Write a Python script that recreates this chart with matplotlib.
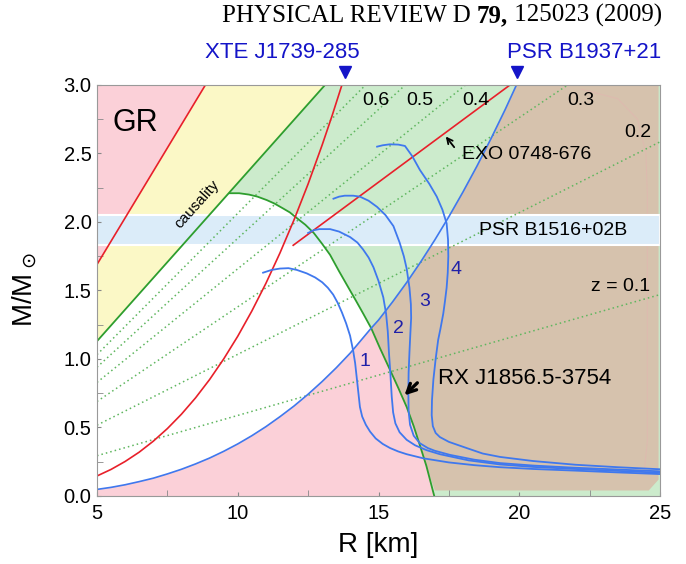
import matplotlib
matplotlib.use("Agg")
import matplotlib.pyplot as plt
import matplotlib.transforms as mtransforms

# ---- data (R in km, M in solar masses) ----
gr_R = [5.0, 8.85]
gr_M = [1.69, 3.0]

caus_R = [5.0, 13.1]
caus_M = [1.13, 3.0]

# green boundary of the white region (rotation limit)
rot_R = [9.72, 10.05, 10.4, 10.7, 11.03, 11.3, 11.6, 11.85, 12.09, 12.4, 12.7, 13.0, 13.28,
         13.6, 13.99, 14.2, 14.46, 14.74, 15.05, 15.41, 15.7, 16.0, 16.25, 16.47, 16.7, 16.98]
rot_M = [2.21, 2.21, 2.20, 2.185, 2.16, 2.135, 2.10, 2.07, 2.03, 1.98, 1.92, 1.84, 1.76,
         1.64, 1.50, 1.425, 1.33, 1.225, 1.08, 0.92, 0.79, 0.65, 0.51, 0.37, 0.22, 0.0]
rot_join = 17  # where it meets the PSR B1937+21 line

# PSR B1937+21 limit (blue line)
psr_R = [5, 5.5, 6, 6.5, 7, 7.5, 8, 8.5, 9, 9.5, 10, 10.5, 11, 11.5, 12, 12.5, 13, 13.5, 14,
         14.74, 15, 15.5, 16, 16.5, 17, 17.5, 18, 18.5, 19, 19.5, 19.9]
psr_M = [0.048, 0.063, 0.082, 0.105, 0.13, 0.161, 0.195, 0.234, 0.277, 0.326, 0.38, 0.44,
         0.506, 0.579, 0.657, 0.743, 0.836, 0.936, 1.044, 1.225, 1.284, 1.417, 1.558, 1.709,
         1.869, 2.039, 2.219, 2.409, 2.61, 2.821, 3.0]
psr_join = 19

# XTE J1739-285 limit (red curve)
xte_R = [5, 5.5, 6, 6.5, 7, 7.5, 8, 8.5, 9, 9.5, 10, 10.5, 11, 11.5, 12, 12.5, 13, 13.35, 13.7]
xte_M = [0.146, 0.194, 0.252, 0.32, 0.40, 0.492, 0.597, 0.716, 0.85, 1.0, 1.166, 1.35,
         1.552, 1.774, 2.016, 2.278, 2.563, 2.775, 3.0]

# EXO 0748-676 line
exo_R = [11.97, 19.67]
exo_M = [1.83, 3.0]

# constant redshift lines
z_labels = ["z = 0.1", "0.2", "0.3", "0.4", "0.5", "0.6"]
z_left_M = [0.294, 0.517, 0.690, 0.829, 0.940, 1.032]
z_end_R = [25, 25, 21.72, 18.09, 15.95, 14.54]
z_end_M = [1.47, 2.585, 3.0, 3.0, 3.0, 3.0]
z_text_R = [23.6, 24.2, 22.2, 18.45, 16.45, 14.9]
z_text_M = [1.53, 2.65, 2.89, 2.89, 2.89, 2.89]

# PSR B1516+02B mass band
band_M = [1.83, 2.05]

# EOS mass-radius curves 1-4
eos1_R = [10.9, 11.2, 11.5, 11.8, 12.1, 12.45, 12.75, 13.0, 13.2, 13.39, 13.55, 13.7, 13.85,
          13.99, 14.1, 14.17, 14.25, 14.34, 14.42, 14.55, 14.7, 14.9, 15.15, 15.41, 15.7,
          16.0, 16.59, 17.5, 18.4, 19.32, 20.5, 22, 23.5, 25]
eos1_M = [1.63, 1.65, 1.66, 1.663, 1.65, 1.625, 1.595, 1.56, 1.52, 1.47, 1.41, 1.34, 1.26,
          1.17, 1.06, 0.97, 0.82, 0.65, 0.58, 0.52, 0.47, 0.42, 0.38, 0.35, 0.325,
          0.305, 0.275, 0.245, 0.225, 0.21, 0.197, 0.185, 0.172, 0.16]
eos2_R = [12.5, 12.7, 12.9, 13.28, 13.6, 13.99, 14.25, 14.45, 14.65, 14.82, 15.0, 15.17,
          15.27, 15.33, 15.37, 15.42, 15.47, 15.52, 15.6, 15.75, 16.0, 16.3, 16.7, 17.18,
          18.2, 19.32, 20.5, 22, 23.5, 25]
eos2_M = [1.92, 1.94, 1.948, 1.948, 1.93, 1.89, 1.85, 1.80, 1.74, 1.67, 1.57, 1.45,
          1.33, 1.2, 1.05, 0.90, 0.725, 0.61, 0.53, 0.465, 0.41, 0.37, 0.335, 0.305,
          0.26, 0.23, 0.212, 0.197, 0.183, 0.17]
eos3_R = [13.4, 13.6, 13.8, 14.1, 14.34, 14.65, 14.95, 15.25, 15.53, 15.75, 15.9, 16.0,
          16.1, 16.15, 16.16, 16.13, 16.1, 16.07, 16.06, 16.07, 16.12, 16.25, 16.47, 16.75,
          17.0, 17.54, 18.4, 19.32, 20.5, 22, 23.5, 25]
eos3_M = [2.17, 2.185, 2.192, 2.192, 2.185, 2.155, 2.11, 2.05, 1.97, 1.85, 1.75, 1.66,
          1.52, 1.40, 1.30, 1.18, 1.05, 0.9, 0.75, 0.62, 0.52, 0.44, 0.385, 0.35,
          0.33, 0.30, 0.265, 0.24, 0.222, 0.206, 0.193, 0.18]
eos4_R = [14.95, 15.15, 15.4, 15.7, 15.94, 16.2, 16.47, 16.8, 17.07, 17.27, 17.42, 17.47,
          17.48, 17.46, 17.42, 17.36, 17.30, 17.2, 17.12, 17.03, 16.95, 16.9, 16.89, 16.93,
          17.03, 17.18, 17.5, 18.13, 18.7, 19.32, 20.5, 22, 23.5, 25]
eos4_M = [2.55, 2.56, 2.567, 2.565, 2.555, 2.48, 2.38, 2.28, 2.185, 2.09, 1.99, 1.87,
          1.75, 1.63, 1.52, 1.42, 1.33, 1.22, 1.14, 1.0, 0.85, 0.7, 0.59, 0.51,
          0.46, 0.43, 0.395, 0.35, 0.31, 0.285, 0.255, 0.228, 0.21, 0.195]
eos_num = ["1", "2", "3", "4"]
eos_num_R = [14.52, 15.70, 16.65, 17.75]
eos_num_M = [0.98, 1.22, 1.42, 1.65]

# colours
c_pink = "#fbd0d8"
c_yellow = "#fbf8c6"
c_green = "#ccebcc"
c_brown = "#d6c2ad"
c_band = "#dbecf9"
c_red = "#e8202a"
c_grn_line = "#2e9e2e"
c_blue = "#3f78ee"
c_dark = "#2020a8"
c_title = "#1414c8"

plt.rcParams["font.family"] = ["Liberation Sans", "DejaVu Sans"]

fig = plt.figure(figsize=(6.86, 5.64), dpi=100)
ax = fig.add_axes([0.1414, 0.1206, 0.8207, 0.7287])
ax.set_xlim(5, 25)
ax.set_ylim(0, 3)
ax.set_facecolor(c_pink)

# regions
ax.fill([caus_R[0], caus_R[1], 25, 25, 5], [caus_M[0], caus_M[1], 3, 0, 0],
        color=c_green, lw=0, zorder=0.5)
ax.fill([caus_R[0], caus_R[1], gr_R[1], gr_R[0]], [caus_M[0], caus_M[1], gr_M[1], gr_M[0]],
        color=c_yellow, lw=0, zorder=0.5)
wR = [caus_R[0]] + rot_R[:rot_join + 1] + psr_R[:psr_join][::-1]
wM = [caus_M[0]] + rot_M[:rot_join + 1] + psr_M[:psr_join][::-1]
ax.fill(wR, wM, color="white", lw=0, zorder=0.6)
pR = [5] + psr_R[:psr_join + 1] + rot_R[rot_join + 1:]
pM = [0] + psr_M[:psr_join + 1] + rot_M[rot_join + 1:]
ax.fill(pR, pM, color=c_pink, lw=0, zorder=0.7)
bR = rot_R[rot_join:-1] + [17.0, 24.6, 24.95, 24.95] + psr_R[psr_join:][::-1]
bM = rot_M[rot_join:-1] + [0.04, 0.04, 0.12, 3.0] + psr_M[psr_join:][::-1]
ax.fill(bR, bM, color=c_brown, lw=0, zorder=0.7)
ax.plot([22.2, 23.5, 24.2, 24.5, 24.55, 24.55, 24.45], [2.97, 2.9, 2.75, 2.5, 2.2, 0.4, 0.2],
        color="#e3b4b0", lw=0.7, alpha=0.6, zorder=0.8)

ax.axhspan(band_M[0], band_M[1], facecolor=c_band, edgecolor="white", lw=1.5, zorder=1)

# redshift lines
for m0, re, me in zip(z_left_M, z_end_R, z_end_M):
    ax.plot([5, re], [m0, me], ls=(0, (1, 2)), color="#5fb65f", lw=1.1, zorder=2)
for zl, tr, tm in zip(z_labels, z_text_R, z_text_M):
    ax.text(tr, tm, zl, fontsize=14, ha="center", va="center", zorder=6)

# constraint lines
ax.plot(gr_R, gr_M, color=c_red, lw=1.2, zorder=3)
ax.plot(caus_R, caus_M, color=c_grn_line, lw=1.3, zorder=3)
ax.plot(rot_R, rot_M, color=c_grn_line, lw=1.3, zorder=3)
ax.plot(xte_R, xte_M, color=c_red, lw=1.2, zorder=3)
ax.plot(exo_R, exo_M, color=c_red, lw=1.2, zorder=3)
ax.plot(psr_R, psr_M, color=c_blue, lw=1.2, zorder=3)

for r, m in [(eos1_R, eos1_M), (eos2_R, eos2_M), (eos3_R, eos3_M), (eos4_R, eos4_M)]:
    ax.plot(r, m, color=c_blue, lw=1.3, zorder=4, solid_joinstyle="round")
for t, r, m in zip(eos_num, eos_num_R, eos_num_M):
    ax.text(r, m, t, color=c_dark, fontsize=14, ha="center", va="center", zorder=6)

# labels inside the plot
ax.text(5.55, 2.72, "GR", fontsize=22, ha="left", va="center", zorder=6)
ax.text(8.55, 2.13, "causality", fontsize=11, rotation=48, ha="center", va="center",
        rotation_mode="anchor", zorder=6)
ax.text(17.95, 2.49, "EXO 0748-676", fontsize=14, ha="left", va="center", zorder=6)
ax.annotate("", xy=(17.33, 2.64), xytext=(17.75, 2.53),
            arrowprops=dict(arrowstyle="->", lw=1.3, color="k"), zorder=6)
ax.text(21.2, 1.94, "PSR B1516+02B", fontsize=14, ha="center", va="center", zorder=6)
ax.text(17.1, 0.86, "RX J1856.5-3754", fontsize=16, ha="left", va="center", zorder=6)
ax.annotate("", xy=(15.85, 0.72), xytext=(16.45, 0.84),
            arrowprops=dict(arrowstyle="->", lw=2.4, color="k", mutation_scale=16), zorder=6)

# source markers above the axes
trans = mtransforms.blended_transform_factory(ax.transData, ax.transAxes)
ax.plot([13.8, 19.92], [1.032, 1.032], ls="none", marker="v", ms=9, color=c_title,
        transform=trans, clip_on=False)
ax.text(11.6, 1.08, "XTE J1739-285", transform=trans, color=c_title, fontsize=16,
        ha="center", va="center")
ax.text(22.3, 1.08, "PSR B1937+21", transform=trans, color=c_title, fontsize=16,
        ha="center", va="center")

# axes styling
ax.set_xticks([5, 10, 15, 20, 25])
ax.set_xticks([7.5, 12.5, 17.5, 22.5], minor=True)
ax.set_yticks([0, 0.5, 1.0, 1.5, 2.0, 2.5, 3.0])
ax.set_yticklabels(["0.0", "0.5", "1.0", "1.5", "2.0", "2.5", "3.0"])
ax.set_yticks([0.25, 0.75, 1.25, 1.75, 2.25, 2.75], minor=True)
ax.tick_params(which="both", direction="in", color="#888888", labelsize=14.5)
ax.tick_params(which="major", length=3)
ax.tick_params(which="minor", length=4)
ax.tick_params(axis="x", pad=6)
ax.tick_params(axis="y", pad=4)
for s in ax.spines.values():
    s.set_color("#999999")
    s.set_zorder(7)

fig.text(378 / 686, 1 - 545 / 564, "R [km]", fontsize=20, ha="center", va="center")
fig.text(25 / 686, 1 - 290 / 564, r"M/M$_\odot$", fontsize=20, rotation=90,
         ha="center", va="center")

# journal header, built from the right edge
fig.canvas.draw()
hdr_y = 1 - 22 / 564
t3 = fig.text(662 / 686, hdr_y, " 125023 (2009)", family="Liberation Serif", fontsize=18,
              ha="right", va="baseline")
fig.canvas.draw()
b3 = t3.get_window_extent()
t2 = fig.text(b3.x0 / fig.bbox.width, hdr_y, "79,", family="Liberation Serif", fontsize=18,
              weight="bold", ha="right", va="baseline")
fig.canvas.draw()
b2 = t2.get_window_extent()
fig.text(b2.x0 / fig.bbox.width, hdr_y, "PHYSICAL REVIEW D ", family="Liberation Serif",
         fontsize=18, ha="right", va="baseline")

fig.savefig("out.png", dpi=100)
